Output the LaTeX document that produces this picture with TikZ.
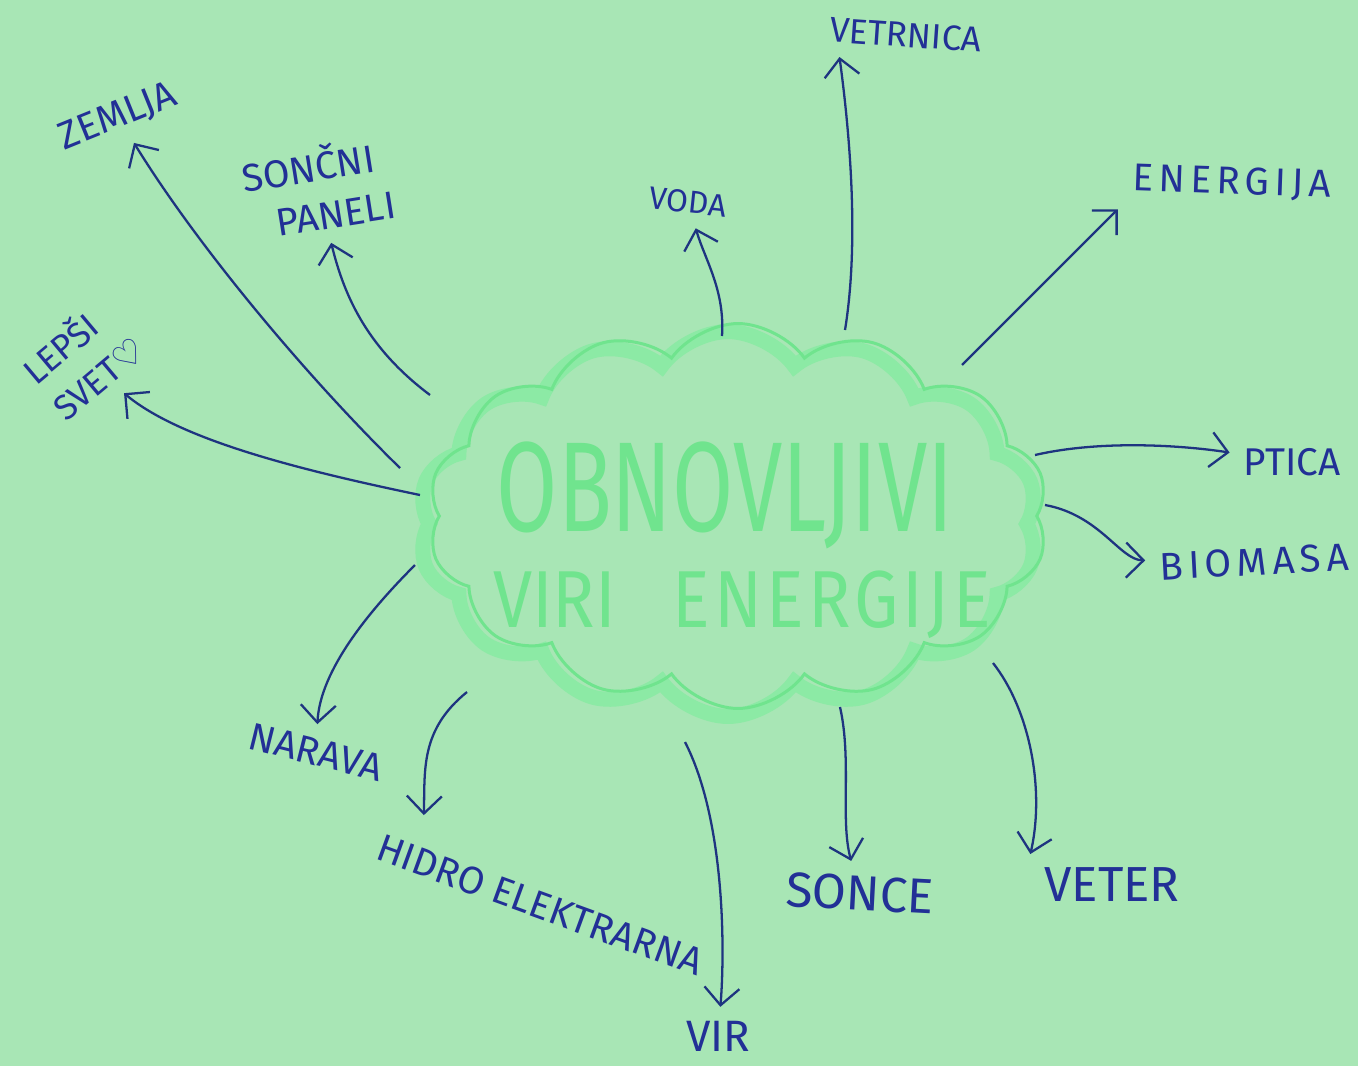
\documentclass[tikz,border=0pt]{standalone}
\usepackage{graphicx}
\usepackage{fontspec}
\setmainfont{Fira Sans}
\newfontfamily\widehand[LetterSpace=14]{Fira Sans}
\newfontfamily\symfont{DejaVu Sans}
\usepackage{tikz}
\usetikzlibrary{arrows, arrows.meta, shapes.symbols, positioning, calc}
\definecolor{paper}{RGB}{168,230,181}
\definecolor{ink}{RGB}{34,48,150}
\definecolor{pen}{RGB}{30,52,128}
\definecolor{marker}{RGB}{140,234,165}
\definecolor{markerdark}{RGB}{112,228,142}
\tikzset{>=stealth}
\tikzset{
  lbl/.style={text=ink, font=\fontsize{22}{30}\selectfont, inner sep=1pt, outer sep=7pt, align=left},
  link/.style={draw=pen, line width=1.3pt, -{Straight Barb[length=3.5mm,width=7mm]}},
  puffy/.style={cloud, cloud puffs=14, cloud puff arc=110, aspect=1.6, inner sep=0pt,
    minimum width=12.4cm, minimum height=7.7cm},
}

\begin{document}
\begin{tikzpicture}[x=0.02cm, y=-0.02cm]

      \fill[paper] (0,0) rectangle (1358,1066);

      % the cloud in the middle
      \node[puffy, draw=marker, line width=0.3cm] (shadow) at (728,524) {};
      \node[puffy, draw=markerdark, line width=0.06cm] (cloud) at (738,516) {};
      \node[text=markerdark, font=\fontsize{56}{60}\selectfont] (title) at (725,495) {\scalebox{0.9}[1.3]{OBNOVLJIVI}};
      \node[text=markerdark, font=\fontsize{40}{44}\selectfont] (sub) at (742,605) {\scalebox{1}[1.15]{VIRI\hspace{0.8em}{\addfontfeature{LetterSpace=6}ENERGIJE}}};

      % the words round it
      \node[lbl, rotate=22] (zemlja) at (118,117) {ZEMLJA};
      \node[lbl, rotate=9] (panel) at (318,188) {SONČNI\\[-2pt]\hspace{0.7em}PANELI};
      \node[lbl, rotate=40, font=\fontsize{20}{27}\selectfont] (lepsi) at (82,358) {LEPŠI\\SVET{\symfont\bfseries ♡}};
      \node[lbl, rotate=-6, font=\fontsize{18}{20}\selectfont] (voda) at (688,202) {VODA};
      \node[lbl, rotate=-4, font=\fontsize{20}{22}\selectfont] (vetrnica) at (906,35) {VETRNICA};
      \node[lbl, rotate=-2, font=\widehand\fontsize{22}{30}\selectfont] (energija) at (1232,183) {ENERGIJA};
      \node[lbl] (ptica) at (1292,462) {PTICA};
      \node[lbl, rotate=3, font=\widehand\fontsize{22}{30}\selectfont] (biomasa) at (1254,562) {BIOMASA};
      \node[lbl, rotate=-14] (narava) at (316,752) {NARAVA};
      \node[lbl, rotate=-20] (hidro) at (540,905) {HIDRO ELEKTRARNA};
      \node[lbl, font=\fontsize{25}{30}\selectfont] (vir) at (718,1036) {VIR};
      \node[lbl, rotate=-3, font=\fontsize{28}{30}\selectfont] (sonce) at (860,893) {SONCE};
      \node[lbl, font=\fontsize{28}{30}\selectfont] (veter) at (1112,885) {VETER};

      % where the lines leave the cloud
      \coordinate (s-zemlja) at (400,468);
      \coordinate (s-panel) at (430,395);
      \coordinate (s-lepsi) at (420,495);
      \coordinate (s-voda) at (722,336);
      \coordinate (s-vetrnica) at (845,330);
      \coordinate (s-energija) at (962,365);
      \coordinate (s-ptica) at (1035,455);
      \coordinate (s-biomasa) at (1045,505);
      \coordinate (s-narava) at (415,565);
      \coordinate (s-hidro) at (467,692);
      \coordinate (s-vir) at (685,742);
      \coordinate (s-sonce) at (840,707);
      \coordinate (s-veter) at (993,663);

      \draw[link] (s-zemlja) .. controls (310,380) and (200,250) .. (zemlja);
      \draw[link] (s-panel) .. controls (370,350) and (345,300) .. (panel);
      \draw[link] (s-lepsi) .. controls (300,470) and (180,440) .. (lepsi);
      \draw[link] (s-voda) .. controls (725,290) and (705,260) .. (voda);
      \draw[link] (s-vetrnica) .. controls (858,250) and (852,150) .. ($(vetrnica.south west)!0.14!(vetrnica.south east)$);
      \draw[link] (s-energija) -- (energija.south west);
      \draw[link] (s-ptica) .. controls (1100,440) and (1180,445) .. (ptica);
      \draw[link] (s-biomasa) .. controls (1100,515) and (1120,560) .. (biomasa);
      \draw[link] (s-narava) .. controls (370,610) and (320,670) .. (narava);
      \draw[link] (s-hidro) .. controls (420,730) and (425,770) .. ($(hidro.north west)!0.14!(hidro.north east)+(0,-18)$);
      \draw[link] (s-vir) .. controls (725,820) and (725,950) .. (vir);
      \draw[link] (s-sonce) .. controls (852,760) and (840,820) .. (sonce);
      \draw[link] (s-veter) .. controls (1030,710) and (1045,790) .. (veter.north west);

\end{tikzpicture}
\end{document}
